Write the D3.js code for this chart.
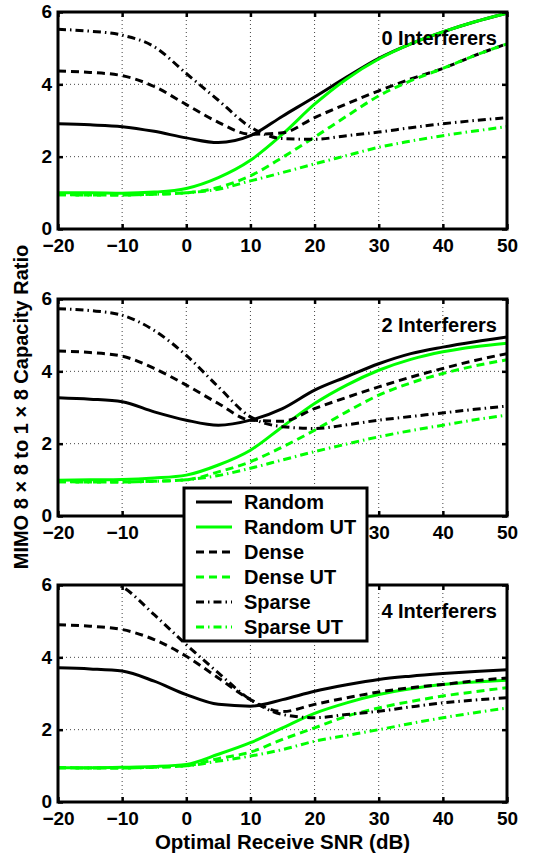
<!DOCTYPE html>
<html>
<head>
<meta charset="utf-8">
<script src="https://cdn.jsdelivr.net/npm/d3@7"></script>
<style>
  body { margin: 0; background: #fff; }
  text { font-family: "Liberation Sans", Arial, sans-serif; font-weight: bold; }
</style>
</head>
<body>
<div id="chart"></div>
<script>
// SNR grid (dB) shared by all curves
const snr = [-20, -15, -10, -5, 0, 5, 10, 15, 20, 25, 30, 35, 40, 45, 50];
const xTicks = [-20, -10, 0, 10, 20, 30, 40, 50];
const yTicks = [0, 2, 4, 6];
const panelTitles = ["0 Interferers", "2 Interferers", "4 Interferers"];
const seriesNames = ["Random", "Random UT", "Dense", "Dense UT", "Sparse", "Sparse UT"];

// 0 interferers
const random0   = [2.91, 2.88, 2.83, 2.70, 2.52, 2.39, 2.58, 3.12, 3.65, 4.20, 4.72, 5.12, 5.45, 5.73, 5.97];
const randomUT0 = [1.00, 1.00, 0.99, 1.02, 1.12, 1.42, 1.90, 2.62, 3.45, 4.15, 4.70, 5.12, 5.45, 5.73, 5.97];
const dense0    = [4.37, 4.33, 4.24, 3.94, 3.44, 2.95, 2.62, 2.66, 3.08, 3.46, 3.82, 4.15, 4.44, 4.80, 5.12];
const denseUT0  = [0.95, 0.94, 0.94, 0.96, 1.00, 1.15, 1.47, 1.98, 2.54, 3.12, 3.68, 4.10, 4.44, 4.80, 5.12];
const sparse0   = [5.52, 5.47, 5.36, 5.04, 4.30, 3.56, 2.82, 2.50, 2.48, 2.58, 2.68, 2.80, 2.91, 3.00, 3.08];
const sparseUT0 = [0.95, 0.94, 0.94, 0.96, 1.00, 1.10, 1.33, 1.56, 1.80, 2.03, 2.26, 2.43, 2.58, 2.71, 2.83];

// 2 interferers
const random2   = [3.27, 3.23, 3.16, 2.88, 2.65, 2.51, 2.65, 2.97, 3.48, 3.85, 4.21, 4.49, 4.67, 4.82, 4.95];
const randomUT2 = [0.99, 1.00, 1.01, 1.05, 1.13, 1.41, 1.82, 2.47, 3.11, 3.62, 4.03, 4.33, 4.54, 4.68, 4.78];
const dense2    = [4.56, 4.52, 4.42, 4.08, 3.62, 3.11, 2.65, 2.62, 2.97, 3.28, 3.57, 3.84, 4.08, 4.30, 4.49];
const denseUT2  = [0.95, 0.94, 0.94, 0.96, 1.00, 1.22, 1.50, 1.91, 2.37, 2.88, 3.34, 3.68, 3.94, 4.15, 4.32];
const sparse2   = [5.73, 5.68, 5.55, 5.13, 4.44, 3.57, 2.74, 2.47, 2.42, 2.52, 2.65, 2.75, 2.85, 2.95, 3.04];
const sparseUT2 = [0.95, 0.94, 0.94, 0.96, 1.00, 1.12, 1.32, 1.55, 1.78, 1.99, 2.19, 2.36, 2.51, 2.66, 2.79];

// 4 interferers
const random4   = [3.71, 3.68, 3.62, 3.34, 2.97, 2.70, 2.65, 2.83, 3.06, 3.24, 3.39, 3.48, 3.55, 3.61, 3.66];
const randomUT4 = [0.95, 0.95, 0.96, 0.98, 1.04, 1.32, 1.64, 2.05, 2.45, 2.74, 2.97, 3.13, 3.25, 3.32, 3.37];
const dense4    = [4.90, 4.86, 4.77, 4.49, 4.03, 3.43, 2.83, 2.50, 2.70, 2.88, 3.04, 3.16, 3.25, 3.35, 3.43];
const denseUT4  = [0.95, 0.94, 0.94, 0.96, 1.00, 1.20, 1.38, 1.73, 2.05, 2.37, 2.60, 2.78, 2.93, 3.05, 3.16];
const sparse4   = [6.35, 6.20, 5.95, 5.18, 4.35, 3.57, 2.83, 2.42, 2.33, 2.42, 2.51, 2.63, 2.74, 2.82, 2.88];
const sparseUT4 = [0.95, 0.94, 0.94, 0.96, 1.00, 1.13, 1.27, 1.45, 1.68, 1.84, 2.00, 2.17, 2.33, 2.47, 2.60];

const panels = [
  [random0, randomUT0, dense0, denseUT0, sparse0, sparseUT0],
  [random2, randomUT2, dense2, denseUT2, sparse2, sparseUT2],
  [random4, randomUT4, dense4, denseUT4, sparse4, sparseUT4]
];

const GREEN = "#00ff00";
const styles = [
  { color: "#000", dash: null },
  { color: GREEN, dash: null },
  { color: "#000", dash: "8,5" },
  { color: GREEN, dash: "8,5" },
  { color: "#000", dash: "8,4,1.5,4" },
  { color: GREEN, dash: "8,4,1.5,4" }
];

const width = 537, height = 856;
const left = 58, right = 507;
const panelTops = [12, 299, 585];
const panelH = 217;

// legend box (the middle panel's 0/10/20 labels sit under it)
const legendBox = { x: 184, y: 488, w: 183, h: 153 };

const svg = d3.select("#chart").append("svg")
  .attr("width", width)
  .attr("height", height);

const x = d3.scaleLinear().domain([-20, 50]).range([left, right]);

panels.forEach((series, pi) => {
  const top = panelTops[pi];
  const y = d3.scaleLinear().domain([0, 6]).range([top + panelH, top]);
  const g = svg.append("g");

  const clipId = "clip" + pi;
  g.append("clipPath").attr("id", clipId)
    .append("rect")
    .attr("x", left).attr("y", top)
    .attr("width", right - left).attr("height", panelH);

  // grid
  g.append("g")
    .selectAll("line")
    .data(xTicks.slice(1, -1))
    .join("line")
    .attr("x1", d => x(d)).attr("x2", d => x(d))
    .attr("y1", top).attr("y2", top + panelH)
    .attr("stroke", "#444").attr("stroke-width", 1)
    .attr("stroke-dasharray", "1,3");
  g.append("g")
    .selectAll("line")
    .data(yTicks.slice(1, -1))
    .join("line")
    .attr("x1", left).attr("x2", right)
    .attr("y1", d => y(d)).attr("y2", d => y(d))
    .attr("stroke", "#444").attr("stroke-width", 1)
    .attr("stroke-dasharray", "1,3");

  // curves
  const line = d3.line()
    .x((d, i) => x(snr[i]))
    .y(d => y(d))
    .curve(d3.curveMonotoneX);

  g.append("g").attr("clip-path", `url(#${clipId})`)
    .selectAll("path")
    .data(series)
    .join("path")
    .attr("d", d => line(d))
    .attr("fill", "none")
    .attr("stroke", (d, i) => styles[i].color)
    .attr("stroke-width", 3)
    .attr("stroke-dasharray", (d, i) => styles[i].dash);

  // labels that would be covered by the legend are not shown
  const bottomTicks = pi === 1
    ? xTicks.filter(t => x(t) < legendBox.x || x(t) > legendBox.x + legendBox.w)
    : xTicks;

  // axes (ticks inside)
  const xAxisB = d3.axisBottom(x).tickValues(bottomTicks).tickSize(-5).tickPadding(10)
    .tickFormat(d => d < 0 ? "\u2212" + Math.abs(d) : d);
  const xAxisT = d3.axisTop(x).tickValues(xTicks).tickSize(-5).tickFormat("");
  const yAxisL = d3.axisLeft(y).tickValues(yTicks).tickSize(-5).tickPadding(6)
    .tickFormat(d3.format("d"));
  const yAxisR = d3.axisRight(y).tickValues(yTicks).tickSize(-5).tickFormat("");

  const axB = g.append("g").attr("transform", `translate(0,${top + panelH})`).call(xAxisB);
  const axT = g.append("g").attr("transform", `translate(0,${top})`).call(xAxisT);
  const axL = g.append("g").attr("transform", `translate(${left},0)`).call(yAxisL);
  const axR = g.append("g").attr("transform", `translate(${right},0)`).call(yAxisR);
  [axB, axT, axL, axR].forEach(a => {
    a.select(".domain").remove();
    a.selectAll(".tick line").attr("stroke", "#000").attr("stroke-width", 2.5);
    a.selectAll("text").attr("fill", "#000").attr("font-size", 19);
  });
  axL.selectAll("text").attr("dy", "0.30em");

  // frame
  g.append("rect")
    .attr("x", left).attr("y", top)
    .attr("width", right - left).attr("height", panelH)
    .attr("fill", "none").attr("stroke", "#000").attr("stroke-width", 3);

  g.append("text")
    .attr("x", right - 10).attr("y", top + 33)
    .attr("text-anchor", "end")
    .attr("font-size", 20)
    .text(panelTitles[pi]);
});

// axis labels
svg.append("text")
  .attr("x", (left + right) / 2).attr("y", 849)
  .attr("text-anchor", "middle")
  .attr("font-size", 20.5)
  .text("Optimal Receive SNR (dB)");

svg.append("text")
  .attr("transform", "translate(28,407) rotate(-90)")
  .attr("text-anchor", "middle")
  .attr("font-size", 20)
  .text("MIMO 8 \u00d7 8 to 1 \u00d7 8 Capacity Ratio");

// legend
const lg = svg.append("g").attr("transform", `translate(${legendBox.x},${legendBox.y})`);
lg.append("rect")
  .attr("width", legendBox.w).attr("height", legendBox.h)
  .attr("fill", "#fff").attr("stroke", "#000").attr("stroke-width", 3);
const rows = lg.selectAll("g.row")
  .data(seriesNames)
  .join("g")
  .attr("transform", (d, i) => `translate(0,${14 + i * 25})`);
rows.append("line")
  .attr("x1", 12).attr("x2", 48)
  .attr("stroke", (d, i) => styles[i].color)
  .attr("stroke-width", 3)
  .attr("stroke-dasharray", (d, i) => styles[i].dash);
rows.append("text")
  .attr("x", 60).attr("dy", "0.36em")
  .attr("font-size", 20)
  .text(d => d);
</script>
</body>
</html>
